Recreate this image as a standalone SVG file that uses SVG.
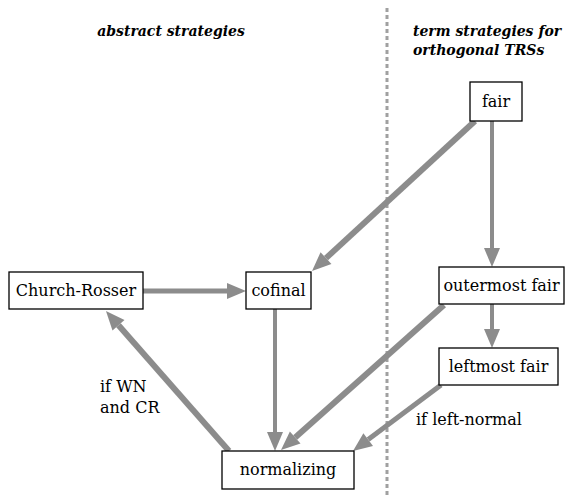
<svg xmlns="http://www.w3.org/2000/svg" width="565" height="498" viewBox="0 0 565 498">
<style>
.box{fill:#fff;stroke:#000;stroke-width:1.3}
.lbl{font-family:"DejaVu Serif","Liberation Serif",serif;font-size:16px;fill:#000}
.c{text-anchor:middle}
.title{font-family:"DejaVu Serif","Liberation Serif",serif;font-size:14px;font-style:italic;font-weight:bold;fill:#000}
.e{stroke:#8c8c8c;fill:none;stroke-linecap:butt}
</style>
<defs>
<marker id="ah" markerUnits="userSpaceOnUse" markerWidth="19" markerHeight="16" refX="0" refY="8" orient="auto" overflow="visible">
<path d="M0,0 L19,8 L0,16 z" fill="#8c8c8c"/>
</marker>
</defs>
<line x1="387" y1="8" x2="387" y2="498" stroke="#a0a0a0" stroke-width="3" stroke-dasharray="4,3"/>
<text class="title c" x="171" y="36">abstract strategies</text>
<text class="title" x="413" y="36">term strategies for</text>
<text class="title" x="413" y="55">orthogonal TRSs</text>
<g id="connectors">
<line class="e" x1="475" y1="121" x2="326" y2="258.1" stroke-width="6" marker-end="url(#ah)"/>
<line class="e" x1="492" y1="121" x2="492" y2="248" stroke-width="4" marker-end="url(#ah)"/>
<line class="e" x1="492" y1="304" x2="492" y2="329" stroke-width="4" marker-end="url(#ah)"/>
<line class="e" x1="143" y1="291" x2="227" y2="291" stroke-width="5" marker-end="url(#ah)"/>
<line class="e" x1="275" y1="309" x2="275" y2="432" stroke-width="4" marker-end="url(#ah)"/>
<line class="e" x1="444" y1="305" x2="295.2" y2="437.4" stroke-width="6" marker-end="url(#ah)"/>
<line class="e" x1="441" y1="385" x2="368.2" y2="439.6" stroke-width="5" marker-end="url(#ah)"/>
<line class="e" x1="229" y1="451" x2="118.5" y2="325.3" stroke-width="6" marker-end="url(#ah)"/>
<text class="lbl" x="100" y="392">if WN</text>
<text class="lbl" x="100" y="413">and CR</text>
<text class="lbl" x="416" y="425">if left-normal</text>
</g>
<g id="fair"><rect class="box" x="470" y="82" width="52" height="39"/><text class="lbl c" x="496" y="107">fair</text></g>
<g id="church-rosser"><rect class="box" x="9" y="272" width="134" height="37"/><text class="lbl c" x="76" y="296">Church-Rosser</text></g>
<g id="cofinal"><rect class="box" x="246" y="272" width="65" height="37"/><text class="lbl c" x="278.5" y="296">cofinal</text></g>
<g id="outermost-fair"><rect class="box" x="439" y="267" width="125" height="37"/><text class="lbl c" x="501.5" y="291">outermost fair</text></g>
<g id="leftmost-fair"><rect class="box" x="439" y="348" width="119" height="37"/><text class="lbl c" x="498.5" y="372">leftmost fair</text></g>
<g id="normalizing"><rect class="box" x="222" y="451" width="132" height="38"/><text class="lbl c" x="288" y="475">normalizing</text></g>
</svg>
